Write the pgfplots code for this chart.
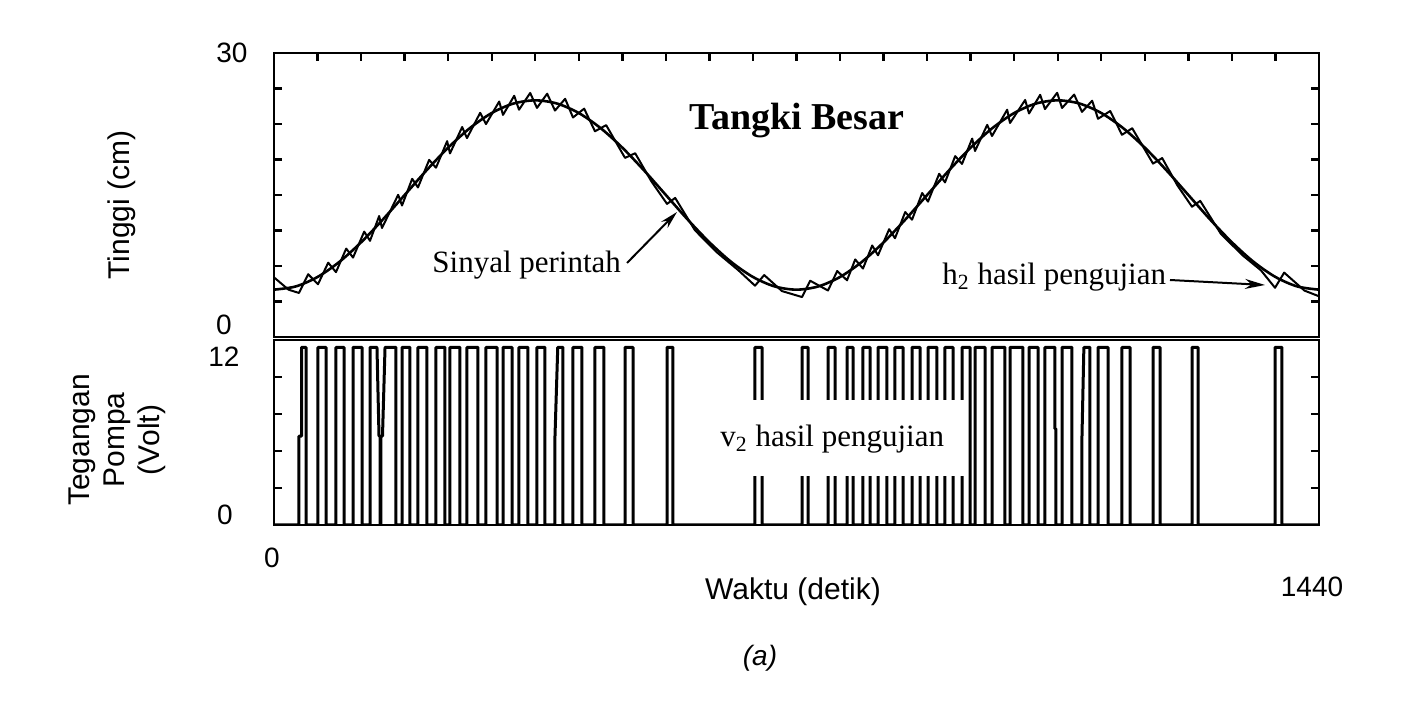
\documentclass[border=0pt]{standalone}
\usepackage{pgfplots}
\pgfplotsset{compat=1.18}
\usepackage{fontspec}
\setmainfont{Liberation Sans}
\newfontfamily\tnr{Liberation Serif}
\usetikzlibrary{arrows.meta}
\begin{document}
\begin{tikzpicture}
\path[use as bounding box] (0,0) rectangle (705pt,356.5pt);
% ---------------- top panel ----------------
\begin{axis}[
  at={(137pt,188pt)}, anchor=south west, scale only axis,
  width=522.5pt, height=142pt,
  xmin=0, xmax=1440, ymin=0, ymax=30,
  axis line style={line width=1.4pt},
  xtick={60,120,...,1380}, xtick pos=right, xticklabels={},
  ytick={3.75,7.5,11.25,15,18.75,22.5,26.25}, ytick pos=both, yticklabels={},
  tick align=inside, major tick length=4pt,
  every tick/.style={black, line width=1.2pt},
]
% Sinyal perintah (command)
\addplot[black, line width=1.3pt, smooth, mark=none] coordinates {
(0,5.00)(30,5.34)(60,6.34)(90,7.93)(120,10.00)(150,12.41)(180,15.00)(210,17.59)
(240,20.00)(270,22.07)(300,23.66)(330,24.66)(360,25.00)(390,24.66)(420,23.66)
(450,22.07)(480,20.00)(510,17.59)(540,15.00)(570,12.41)(600,10.00)(630,7.93)
(660,6.34)(690,5.34)(720,5.00)(750,5.34)(780,6.34)(810,7.93)(840,10.00)
(870,12.41)(900,15.00)(930,17.59)(960,20.00)(990,22.07)(1020,23.66)(1050,24.66)
(1080,25.00)(1110,24.66)(1140,23.66)(1170,22.07)(1200,20.00)(1230,17.59)
(1260,15.00)(1290,12.41)(1320,10.00)(1350,7.93)(1380,6.34)(1410,5.34)(1440,5.00)
};
% h2 hasil pengujian (measured)
\addplot[black, line width=1.0pt, mark=none, line join=round] coordinates {
(0,6.3)(20,5.0)
(34.4,4.65)(47.1,6.63)
(60.6,5.57)(74.7,7.85)
(85.4,6.85)(99.5,9.34)
(108.9,8.39)(124.3,11.13)
(132.3,10.16)(144.9,12.78)
(148.8,11.51)(171.1,15.02)
(176.4,13.89)(190.4,16.71)
(198.4,15.80)(213.8,18.71)
(223.2,17.88)(238.6,20.69)
(242.5,19.39)(259.3,22.18)
(265.9,21.01)(284.1,23.68)
(292.1,22.49)(310.3,24.87)
(315.6,23.46)(331,25.48)
(337.6,24.01)(353,25.78)
(362.4,24.2)(376.4,25.70)
(387.2,23.92)(401.2,25.16)
(412.0,23.19)(427.4,24.12)
(442.3,21.73)(457.7,22.38)
(483.7,18.92)(497.7,19.41)
(520,16.44)
(541.6,14.06)(552.8,14.69)
(580,11.28)(610,8.96)(640,7.04)
(662.8,5.42)(675.5,6.54)
(700,4.85)
(727.6,4.22)(738.9,5.94)
(763.4,4.91)(776.1,6.97)
(789.6,5.99)(800.9,8.19)
(811.6,7.23)(824.3,9.67)
(832.3,8.63)(847.7,11.39)
(855.7,10.43)(869.8,13.20)
(879.2,12.39)(893.2,15.21)
(901.2,14.30)(916.6,17.24)
(924.6,16.33)(938.7,19.11)
(948.1,18.28)(962.1,20.96)
(966.0,19.65)(982.8,22.41)
(989.4,21.23)(1010.3,24.01)
(1014.2,22.60)(1035.1,25.04)
(1040.4,23.61)(1055.8,25.58)
(1062.4,24.08)(1079.2,25.80)
(1085.9,24.19)(1102.6,25.61)
(1113.4,23.78)(1127.4,24.96)
(1135.5,23.05)(1152.3,23.87)
(1168.5,21.36)(1182.6,22.05)
(1211.3,18.32)(1223.9,18.90)
(1245,16.0)
(1265.0,13.76)(1276.3,14.38)
(1305,10.87)(1335,8.61)(1360,7.04)
(1379.4,5.2)(1392,6.8)
(1420,4.9)(1440,4.3)
};
\end{axis}
% ---------------- bottom panel ----------------
\begin{axis}[
  at={(137pt,94pt)}, anchor=south west, scale only axis,
  width=522.5pt, height=92.5pt,
  xmin=0, xmax=1440, ymin=0, ymax=12.5,
  axis line style={line width=1.4pt},
  xtick=\empty,
  ytick={2.5,5,7.5,10}, ytick pos=both, yticklabels={},
  tick align=inside, major tick length=4pt,
  every tick/.style={black, line width=1.2pt},
]
\addplot[black, line width=1.5pt, mark=none, line join=round] coordinates {
(0,0)(34.4,0)(34.4,6)(37.9,6)(37.9,12)(44.1,12)(44.1,0)
(60.6,0)(60.6,12)(71.7,12)(71.7,0)
(85.4,0)(85.4,12)(96.5,12)(96.5,0)
(108.9,0)(108.9,12)(121.3,12)(121.3,0)
(132.3,0)(132.3,12)(141.9,12)(144.7,6)(146.1,6)(146.1,0)(147.4,0)(147.4,6)(149.5,6)(153,12)(168.1,12)(168.1,0)
(176.4,0)(176.4,12)(187.4,12)(187.4,0)
(198.4,0)(198.4,12)(210.8,12)(210.8,0)
(223.2,0)(223.2,12)(235.6,12)(235.6,0)
(242.5,0)(242.5,12)(256.3,12)(256.3,0)
(265.9,0)(265.9,12)(281.1,12)(281.1,0)
(292.1,0)(292.1,12)(307.3,12)(307.3,0)
(315.6,0)(315.6,12)(328.0,12)(328.0,0)
(337.6,0)(337.6,12)(350.0,12)(350.0,0)
(362.4,0)(362.4,12)(373.4,12)(373.4,0)
(387.2,0)(387.2,6)(391,12)(398.2,12)(398.2,0)
(412.0,0)(412.0,12)(424.4,12)(424.4,0)
(442.3,0)(442.3,12)(454.7,12)(454.7,0)
(483.7,0)(483.7,12)(494.7,12)(494.7,0)
(541.6,0)(541.6,12)(549.8,12)(549.8,0)
(662.8,0)(662.8,12)(672.5,12)(672.5,0)
(727.6,0)(727.6,12)(735.9,12)(735.9,0)
(763.4,0)(763.4,12)(773.1,12)(773.1,0)
(789.6,0)(789.6,12)(797.9,12)(797.9,0)
(811.6,0)(811.6,12)(821.3,12)(821.3,0)
(832.3,0)(832.3,12)(844.7,12)(844.7,0)
(855.7,0)(855.7,12)(866.8,12)(866.8,0)
(879.2,0)(879.2,12)(890.2,12)(890.2,0)
(901.2,0)(901.2,12)(913.6,12)(913.6,0)
(924.6,0)(924.6,12)(935.7,12)(935.7,0)
(948.1,0)(948.1,12)(959.1,12)(959.1,0)
(966.0,0)(966.0,12)(979.8,12)(979.8,0)
(989.4,0)(989.4,12)(1007.3,12)(1007.3,0)
(1014.2,0)(1014.2,12)(1032.1,12)(1032.1,0)
(1040.4,0)(1040.4,12)(1052.8,12)(1052.8,0)
(1062.4,0)(1062.4,12)(1076.2,12)(1076.2,6.5)(1077.5,6.5)(1077.5,0)
(1085.9,0)(1085.9,12)(1099.6,12)(1099.6,0)
(1113.4,0)(1113.4,6)(1116,12)(1124.4,12)(1124.4,0)
(1135.5,0)(1135.5,12)(1149.3,12)(1149.3,0)
(1168.5,0)(1168.5,12)(1179.6,12)(1179.6,0)
(1211.3,0)(1211.3,12)(1220.9,12)(1220.9,0)
(1265.0,0)(1265.0,12)(1273.3,12)(1273.3,0)
(1379.4,0)(1379.4,12)(1389.0,12)(1389.0,0)
(1440,0)
};
\fill[white] (axis cs:603,3.29) rectangle (axis cs:952,8.42);
\end{axis}
% ---------------- texts ----------------
\begin{scope}[every node/.style={inner sep=0pt}]
\node[font=\fontsize{14}{16}\selectfont] at (116pt,330pt) {30};
\node[font=\fontsize{14}{16}\selectfont] at (112pt,194pt) {0};
\node[font=\fontsize{14}{16}\selectfont] at (112pt,178pt) {12};
\node[font=\fontsize{14}{16}\selectfont] at (112.5pt,99pt) {0};
\node[font=\fontsize{14}{16}\selectfont] at (136pt,77.5pt) {0};
\node[font=\fontsize{14}{16}\selectfont] at (656pt,63pt) {1440};
\node[font=\fontsize{15}{18}\selectfont] at (396.5pt,60.5pt) {Waktu (detik)};
\node[font=\fontsize{14}{16}\selectfont\itshape] at (380pt,27.5pt) {(a)};
\node[font=\fontsize{15}{18}\selectfont, rotate=90] at (61pt,254pt) {Tinggi (cm)};
\node[font=\fontsize{15}{17.5}\selectfont, rotate=90, align=center] at (58.5pt,136.5pt) {Tegangan\\Pompa\\(Volt)};
\node[font=\tnr\fontsize{19}{22}\selectfont\bfseries, anchor=base] at (398.5pt,291.5pt) {Tangki Besar};
\node[font=\tnr\fontsize{15.5}{18}\selectfont, anchor=base west] at (216pt,220pt) {Sinyal perintah};
\node[font=\tnr\fontsize{15.5}{18}\selectfont, anchor=base west] at (471pt,214pt) {h\textsubscript{2} hasil pengujian};
\node[font=\tnr\fontsize{15.5}{18}\selectfont, anchor=base west] at (360pt,133pt) {v\textsubscript{2} hasil pengujian};
\end{scope}
\draw[line width=1pt, -{Stealth[length=9pt,width=4.5pt]}] (313.5pt,225pt) -- (338.5pt,250.5pt);
\draw[line width=1pt, -{Stealth[length=10pt,width=5pt]}] (585pt,216.5pt) -- (632.5pt,214pt);
\end{tikzpicture}
\end{document}
